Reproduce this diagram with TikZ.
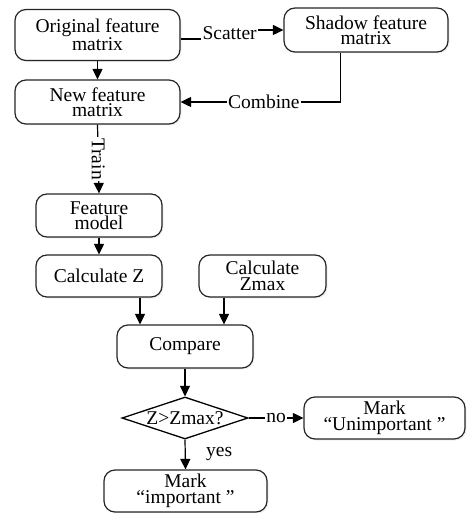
\documentclass[tikz,border=0pt]{standalone}
\usepackage{fontspec}
\setmainfont{Liberation Serif}
\usetikzlibrary{arrows.meta,shapes.geometric,shadows}
\begin{document}
\begin{tikzpicture}[x=1pt,y=-1pt,
  every node/.style={font=\fontsize{19.5}{15.5}\selectfont},
  box/.style={draw=black!85, line width=1.2pt, rounded corners=11pt, align=center,
    inner sep=0pt, fill=white,
    drop shadow={opacity=0.12, shadow xshift=1.5pt, shadow yshift=-1.5pt}},
  decision/.style={draw=black, line width=1.3pt, diamond, aspect=3, inner sep=-1pt, fill=white},
  arr/.style={line width=1.2pt, -{Triangle[length=10.5pt,width=10pt]}},
  lbl/.style={fill=white, inner sep=1.5pt}]
\useasboundingbox (0,0) rectangle (466,513);

\node[box, minimum width=165pt, minimum height=51pt] (orig) at (97.5,35) {Original feature\\matrix};
\node[box, minimum width=164pt, minimum height=44pt] (shadow) at (366,30) {Shadow feature\\matrix};
\node[box, minimum width=165pt, minimum height=44pt] (new) at (97.5,102) {New feature\\matrix};
\node[box, minimum width=126pt, minimum height=43pt] (feat) at (99,215.5) {Feature\\model};
\node[box, minimum width=126pt, minimum height=42pt] (calcz) at (99,276) {Calculate Z};
\node[box, minimum width=127pt, minimum height=42pt] (zmax) at (262.5,276) {Calculate\\Zmax};
\node[box, minimum width=136pt, minimum height=43pt] (cmp) at (185,346.5) {Compare};
\node[decision, minimum width=126pt, minimum height=42pt] (dec) at (185,418) {Z>Zmax?};
\node[box, minimum width=161pt, minimum height=42pt] (unimp) at (384.5,418) {Mark\\“Unimportant ”};
\node[box, minimum width=163pt, minimum height=42pt] (imp) at (185.5,491) {Mark\\“important ”};

\draw[arr] ([yshift=-4pt]orig.east) -- ++(49,0) |- (shadow.west)
  node[lbl, pos=0.3, inner ysep=3pt] {Scatter};
\draw[arr] (orig.south) -- (new.north);
\draw[arr] ([xshift=-25.3pt]shadow.south) |- (new.east)
  node[lbl, pos=0.74] {Combine};
\draw[arr] (new.south) -- (feat.north)
  node[lbl, pos=0.5, rotate=-90, inner sep=1pt] {Train};
\draw[arr] (feat.south) -- (calcz.north);
\draw[arr] ([xshift=41pt]calcz.south) -- ([xshift=-45pt]cmp.north);
\draw[arr] ([xshift=-38.5pt]zmax.south) -- ([xshift=39pt]cmp.north);
\draw[arr] (cmp.south) -- (dec.north);
\draw[arr] (dec.east) -- (unimp.west) node[lbl, midway, inner sep=1pt] {no};
\draw[arr] (dec.south) -- (imp.north) node[midway, anchor=west, xshift=17pt, yshift=1pt] {yes};
\end{tikzpicture}
\end{document}
